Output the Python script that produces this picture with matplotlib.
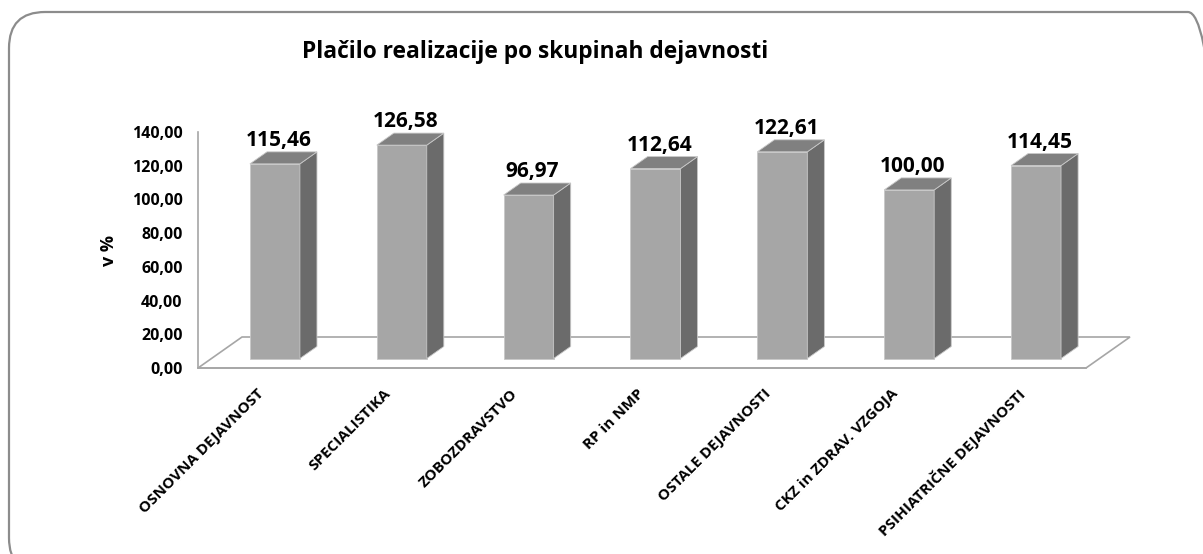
import matplotlib
matplotlib.use("Agg")
import matplotlib.pyplot as plt
from matplotlib.patches import Polygon, FancyBboxPatch

plt.rcParams['font.family'] = ['Open Sans', 'DejaVu Sans']

# podatki
kategorije = ['OSNOVNA DEJAVNOST', 'SPECIALISTIKA', 'ZOBOZDRAVSTVO', 'RP in NMP',
              'OSTALE DEJAVNOSTI', 'CKZ in ZDRAV. VZGOJA', 'PSIHIATRIČNE DEJAVNOSTI']
vrednosti = [115.46, 126.58, 96.97, 112.64, 122.61, 100.00, 114.45]
y_ticks = [0, 20, 40, 60, 80, 100, 120, 140]

W, H = 1203, 554
fig = plt.figure(figsize=(W / 100, H / 100), dpi=100)

# okvir z zaobljenimi robovi
okvir = FancyBboxPatch((9 / W, -20 / H), 1215 / W, (H - 12 + 20) / H,
                       boxstyle="round,pad=0,rounding_size=0.03",
                       transform=fig.transFigure, fill=False,
                       edgecolor='#8c8c8c', linewidth=1.6, mutation_aspect=W / H)
fig.patches.append(okvir)

ax = fig.add_axes([198 / W, (H - 368) / H, 888 / W, 236 / H])
n = len(vrednosti)
ax.set_xlim(0, n)
ax.set_ylim(0, 140)

# globina 3D (v enotah osi)
px_x = 888 / n
px_y = 236 / 140
DX = 44 / px_x
DY = 31 / px_y
f0, f1 = 0.306, 0.694
pol = 25 / px_x

# tla
tla = Polygon([(0, 0), (n, 0), (n + DX, DY), (DX, DY)], closed=True,
              facecolor='white', edgecolor='#a6a6a6', linewidth=1.2,
              clip_on=False, zorder=1)
ax.add_patch(tla)

barva_spredaj = '#a6a6a6'
barva_stran = '#6b6b6b'
barva_zgoraj = '#808080'
rob = '#c8c8c8'

for i, v in enumerate(vrednosti):
    cx = i + 0.5 + f0 * DX
    y0 = f0 * DY
    x_l, x_r = cx - pol, cx + pol
    ddx = (f1 - f0) * DX
    ddy = (f1 - f0) * DY
    spredaj = Polygon([(x_l, y0), (x_r, y0), (x_r, y0 + v), (x_l, y0 + v)],
                      facecolor=barva_spredaj, edgecolor=rob, linewidth=0.6,
                      clip_on=False, zorder=3)
    stran = Polygon([(x_r, y0), (x_r + ddx, y0 + ddy), (x_r + ddx, y0 + ddy + v), (x_r, y0 + v)],
                    facecolor=barva_stran, edgecolor=rob, linewidth=0.6,
                    clip_on=False, zorder=3)
    zgoraj = Polygon([(x_l, y0 + v), (x_r, y0 + v), (x_r + ddx, y0 + ddy + v), (x_l + ddx, y0 + ddy + v)],
                     facecolor=barva_zgoraj, edgecolor=rob, linewidth=0.6,
                     clip_on=False, zorder=3)
    ax.add_patch(spredaj)
    ax.add_patch(stran)
    ax.add_patch(zgoraj)
    ax.text(cx + 0.03, y0 + ddy + v + 0.5, f"{v:.2f}".replace('.', ','),
            ha='center', va='bottom', fontsize=15, fontweight='bold', zorder=4)

# osi
for s in ['top', 'right']:
    ax.spines[s].set_visible(False)
ax.spines['left'].set_color('#a6a6a6')
ax.spines['bottom'].set_color('#a6a6a6')
ax.spines['left'].set_linewidth(1.2)
ax.spines['bottom'].set_linewidth(1.2)
ax.patch.set_alpha(0)

ax.set_yticks(y_ticks)
ax.set_yticklabels([f"{t:.2f}".replace('.', ',') for t in y_ticks],
                   fontsize=11.5, fontweight='bold')
ax.tick_params(axis='y', length=0, pad=11)

ax.set_xticks([i + 0.5 for i in range(n)])
ax.set_xticklabels(kategorije, rotation=45, ha='right', va='center',
                   rotation_mode='anchor', fontsize=11, fontweight='bold')
ax.tick_params(axis='x', length=0, pad=17)

ax.set_ylabel('v %', fontsize=13, fontweight='bold', labelpad=10)

fig.text(535 / W, 1 - 52 / H, 'Plačilo realizacije po skupinah dejavnosti',
         ha='center', va='center', fontsize=16.4, fontweight='bold')

fig.savefig('out.png', dpi=100)
